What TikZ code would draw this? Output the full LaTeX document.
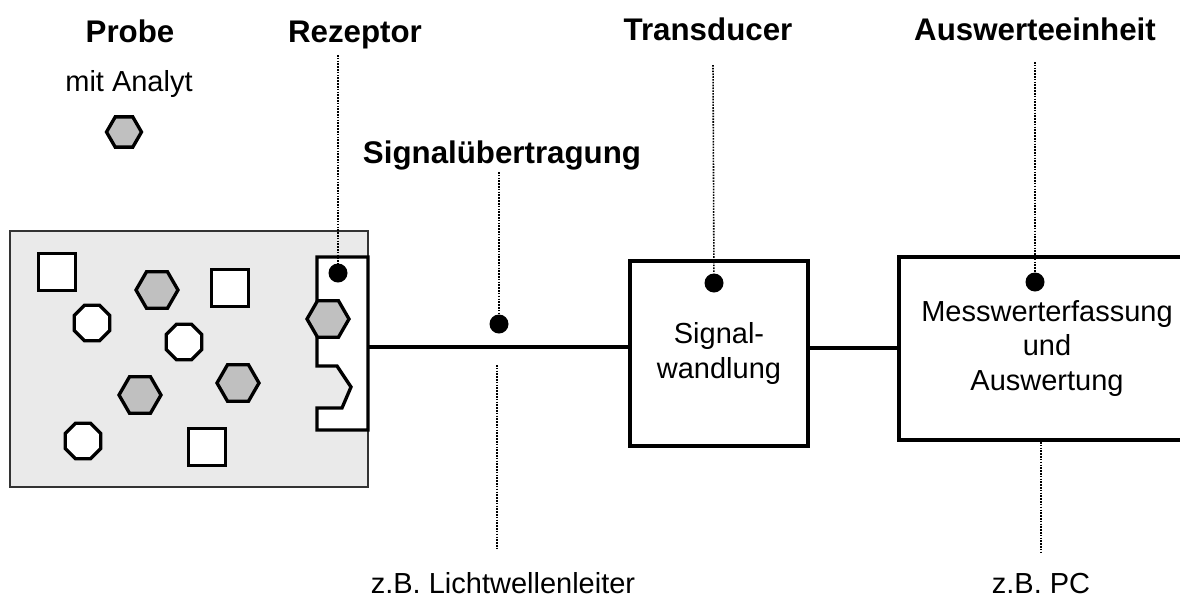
\documentclass[tikz,border=0pt]{standalone}
\usepackage{fontspec}
\setmainfont{Liberation Sans}
\usetikzlibrary{shapes.geometric}
\definecolor{probegray}{HTML}{EAEAEA}
\definecolor{analytgray}{HTML}{C0C0C0}

\begin{document}
\begin{tikzpicture}[x=0.2mm, y=-0.2mm,
    title/.style={font=\fontsize{17.8}{21}\selectfont\bfseries, anchor=base,
      inner sep=0pt},
    note/.style={font=\fontsize{16.5}{19.5}\selectfont, anchor=base,
      inner sep=0pt},
    unit/.style={draw, line width=2.3pt, align=center, inner sep=0pt,
      font=\fontsize{16.5}{19.8}\selectfont},
    hexa/.style={regular polygon, regular polygon sides=6, draw,
      line width=1.9pt, fill=analytgray, minimum size=8.4mm, inner sep=0pt},
    okta/.style={regular polygon, regular polygon sides=8, draw,
      line width=1.9pt, fill=white, minimum size=7.7mm, inner sep=0pt},
    quad/.style={rectangle, draw, line width=1.9pt, fill=white,
      minimum size=7.4mm, inner sep=0pt},
    punkt/.style={circle, fill=black, minimum size=3.8mm, inner sep=0pt},
    leader/.style={line width=0.9pt, dash pattern=on 0.9pt off 0.7pt},
    wire/.style={line width=1.9pt}
  ]
    \useasboundingbox (0,0) rectangle (1180,598);
    \clip (0,0) rectangle (1180,598);

    % Probe mit Analyt
    \draw[draw=black!80, line width=0.6pt, fill=probegray]
      (10,231) rectangle (368,487);
    \node[quad] (q1) at (57,272) {};
    \node[hexa] (h1) at (157,290) {};
    \node[quad] (q2) at (230,288) {};
    \node[okta] (o1) at (92,323) {};
    \node[okta] (o2) at (184,342) {};
    \node[hexa] (h2) at (238,383) {};
    \node[hexa] (h3) at (140,395) {};
    \node[okta] (o3) at (83,441) {};
    \node[quad] (q3) at (207,447) {};

    % Rezeptor
    \draw[line width=1.9pt, fill=white, line join=miter]
      (317,257) -- (368,257) -- (368,430) -- (317,430) -- (317,408)
      -- (342,408) -- (351,387) -- (337,366) -- (317,366) -- cycle;
    \node[hexa] (rezHex) at (328,319) {};
    \node[punkt] (rezDot) at (338,273) {};
    \coordinate (rezOut) at (368,347);

    % Titel
    \node[title] (probeLabel) at (130,42) {Probe};
    \node[note] (analytLabel) at (129,91) {mit Analyt};
    \node[hexa, minimum size=7mm] (analyt) at (124,132) {};
    \node[title] (rezLabel) at (355,42) {Rezeptor};
    \node[title] (sigLabel) at (502,163) {Signalübertragung};
    \node[title] (transLabel) at (708,40) {Transducer};
    \node[title] (auswLabel) at (1035,40) {Auswerteeinheit};

    % Einheiten
    \node[unit, minimum width=35.6mm, minimum height=37mm] (trans)
      at (719,353.5) {Signal-\\wandlung};
    \node[unit, minimum width=59.2mm, minimum height=36.6mm] (ausw)
      at (1047,348.5) {Messwerterfassung\\und\\Auswertung};

    \draw[wire] (rezOut) -- (trans.west |- rezOut);
    \coordinate (transOut) at (trans.east |- 0,348);
    \draw[wire] (transOut) -- (ausw.west |- transOut);

    \node[punkt] (sigDot) at (499,324) {};
    \node[punkt] (transDot) at (714,283) {};
    \node[punkt] (auswDot) at (1035,282) {};

    % Hinweise unten
    \node[note] (lwlNote) at (503,593) {z.B. Lichtwellenleiter};
    \node[note] (pcNote) at (1041,593) {z.B. PC};

    % Bezugslinien
    \coordinate (rezTop) at (338,55);
    \coordinate (sigTop) at (499,172);
    \coordinate (transTop) at (713,65);
    \coordinate (auswTop) at (1035,62);
    \coordinate (lwlA) at (497,365);
    \coordinate (lwlB) at (497,548);
    \coordinate (pcB) at (1041,554);
    \draw[leader] (rezTop) -- (rezDot);
    \draw[leader] (sigTop) -- (sigDot);
    \draw[leader] (transTop) -- (transDot);
    \draw[leader] (auswTop) -- (auswDot);
    \draw[leader] (lwlA) -- (lwlB);
    \draw[leader] (ausw.south -| pcB) -- (pcB);
\end{tikzpicture}
\end{document}
